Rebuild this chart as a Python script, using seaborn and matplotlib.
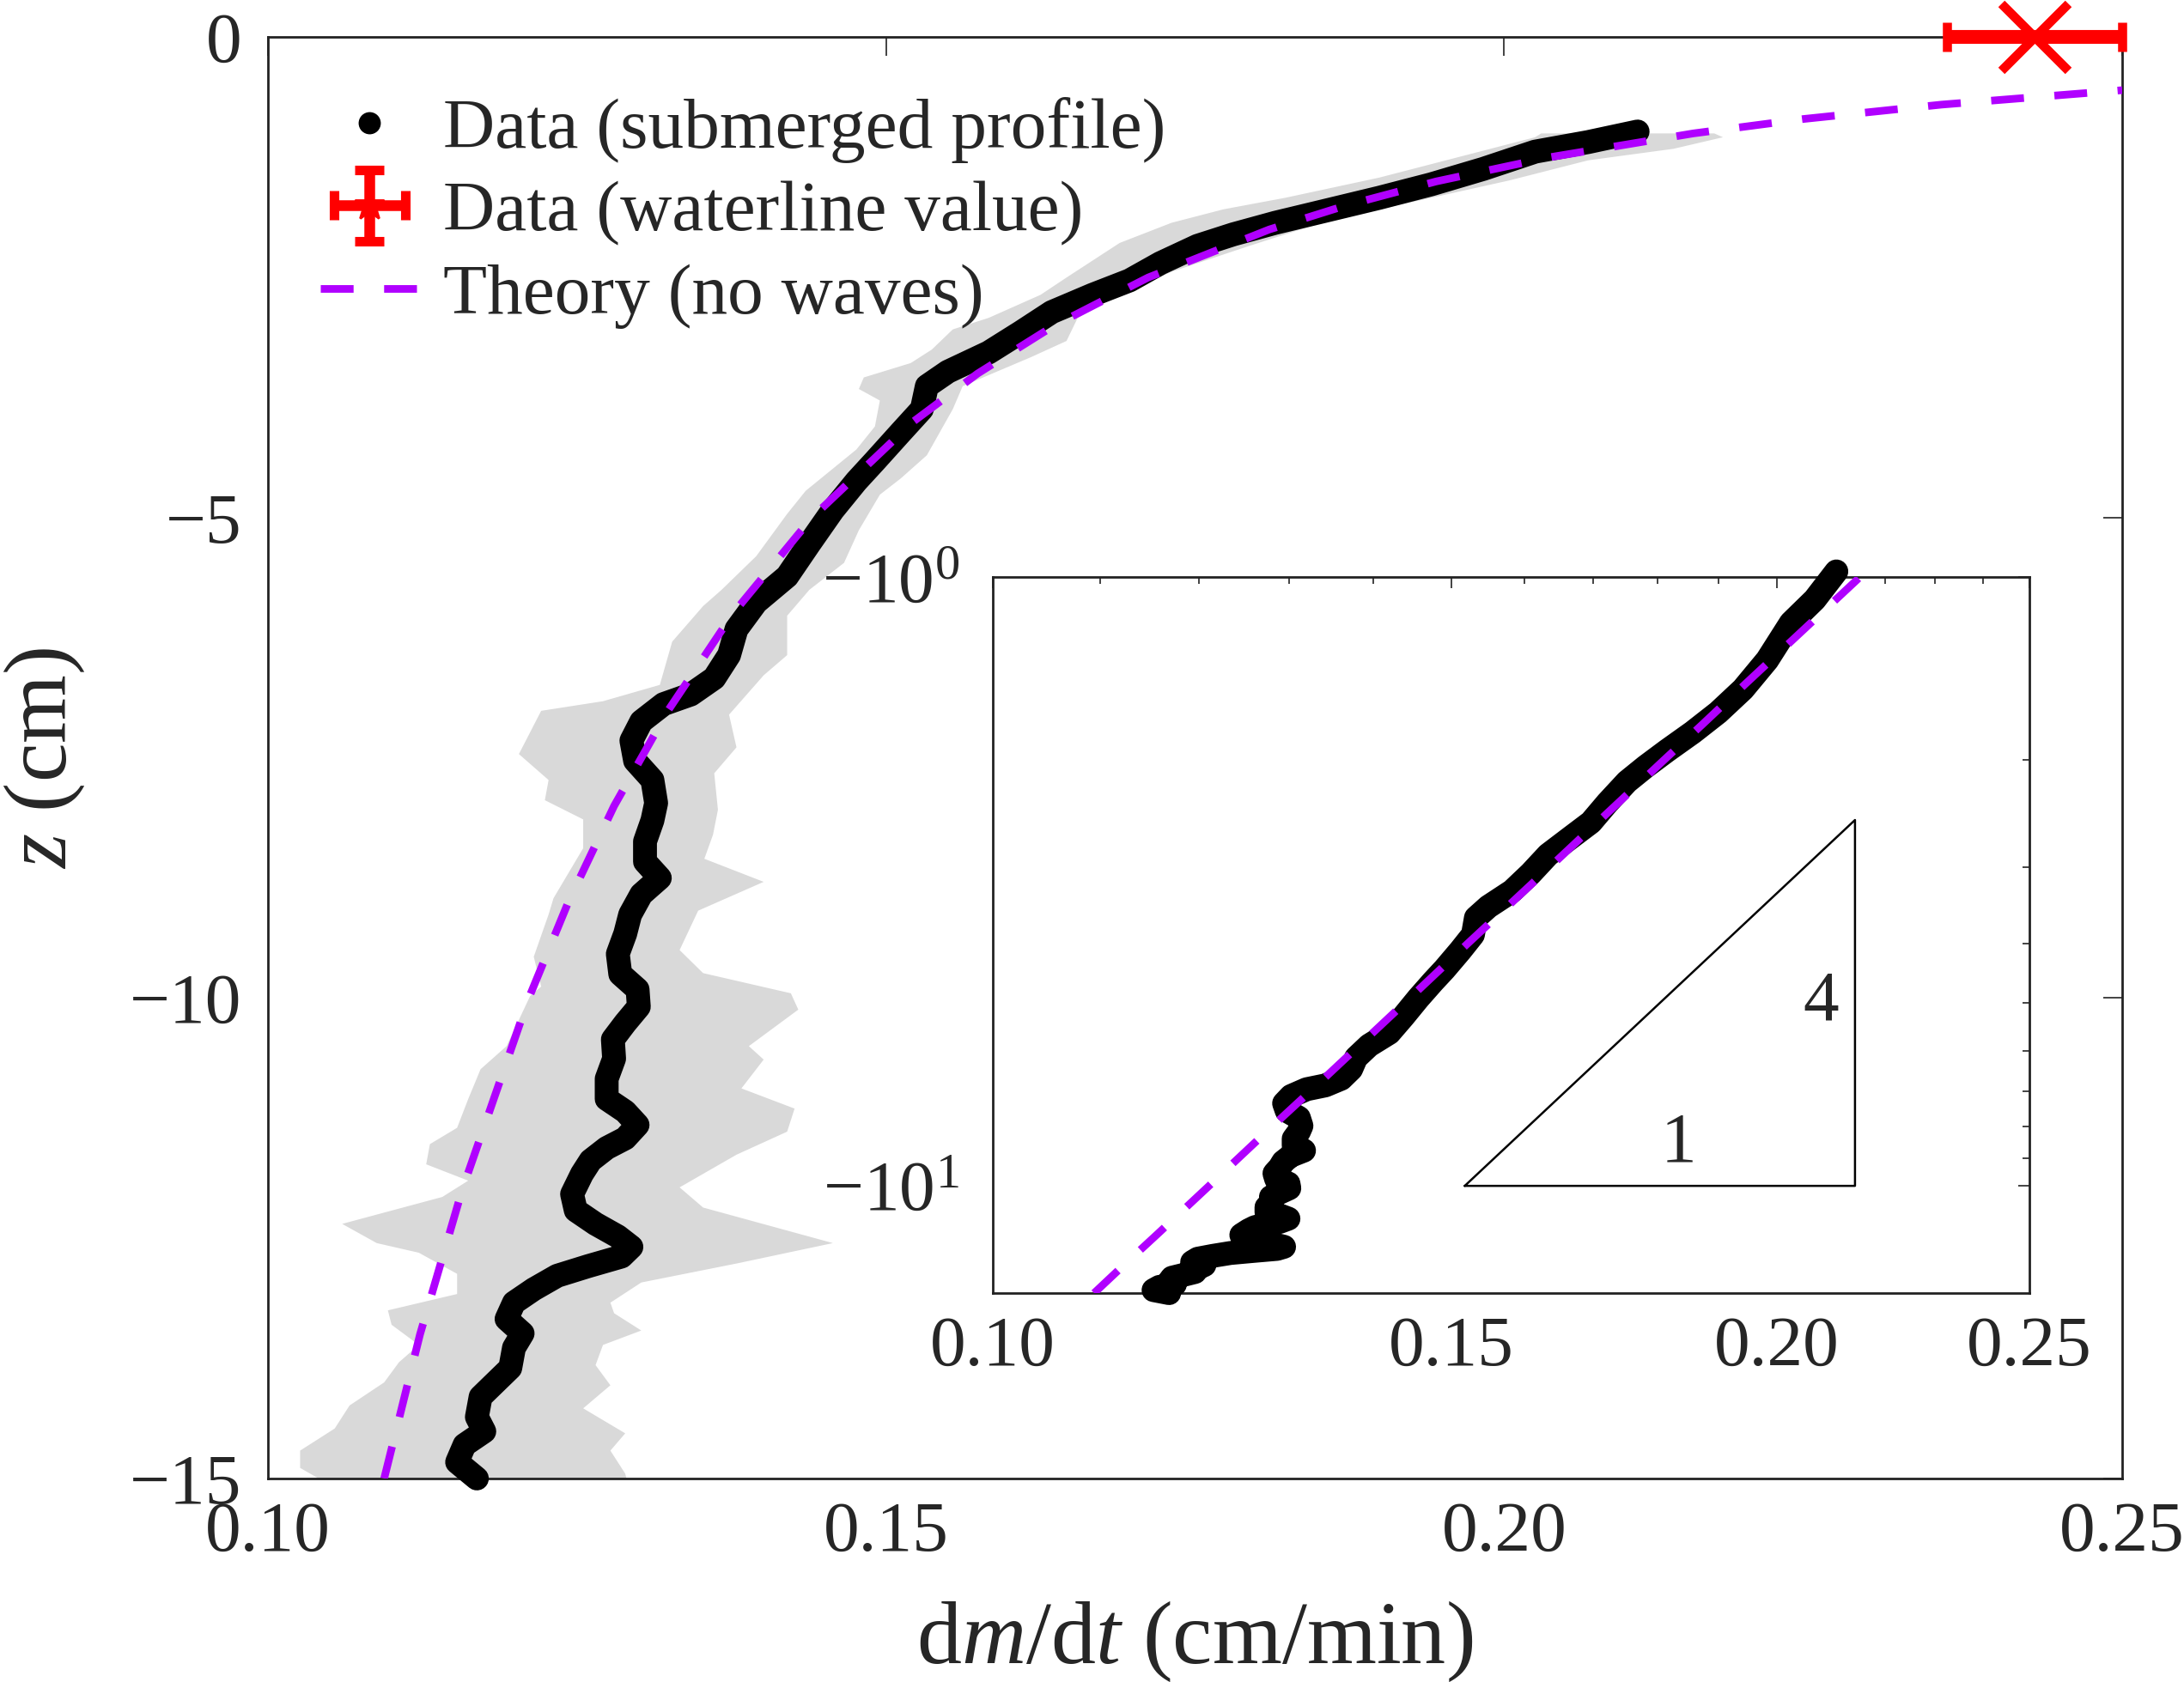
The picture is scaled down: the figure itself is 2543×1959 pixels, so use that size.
import numpy as np
import pandas as pd
import matplotlib
matplotlib.use("Agg")
import matplotlib.pyplot as plt
import seaborn as sns
from matplotlib.lines import Line2D
from matplotlib.ticker import FixedLocator, FixedFormatter, NullFormatter

# profil mesuré (z en cm, dm/dt en cm/min)
profile_z = [-0.98, -1.09, -1.19, -1.37, -1.53, -1.67, -1.80, -1.93, -2.05, -2.17,
             -2.35, -2.53, -2.68, -2.86, -3.07, -3.28, -3.48, -3.63, -3.87, -4.11,
             -4.41, -4.62, -4.92, -5.27, -5.61, -5.88, -6.16, -6.43, -6.67, -6.84,
             -6.94, -7.12, -7.32, -7.53, -7.73, -7.97, -8.15, -8.37, -8.58, -8.75,
             -8.92, -9.13, -9.33, -9.54, -9.75, -9.91, -10.09, -10.26, -10.43, -10.63,
             -10.84, -11.05, -11.18, -11.32, -11.46, -11.56, -11.69, -11.83, -12.04, -12.21,
             -12.35, -12.48, -12.59, -12.69, -12.79, -12.89, -13.03, -13.17, -13.34, -13.49,
             -13.64, -13.85, -14.00, -14.15, -14.36, -14.51, -14.65, -14.83, -15.00]
profile_dmdt = [0.2108, 0.2068, 0.2025, 0.1983, 0.1941, 0.1899, 0.1857, 0.1815, 0.1781, 0.1752,
                0.1722, 0.1697, 0.1667, 0.1634, 0.1609, 0.1583, 0.1550, 0.1533, 0.1529, 0.1512,
                0.1491, 0.1476, 0.1457, 0.1438, 0.1420, 0.1395, 0.1379, 0.1373, 0.1361, 0.1342,
                0.1320, 0.1302, 0.1294, 0.1297, 0.1311, 0.1314, 0.1311, 0.1305, 0.1305, 0.1317,
                0.1302, 0.1293, 0.1289, 0.1283, 0.1285, 0.1299, 0.1300, 0.1289, 0.1279, 0.1280,
                0.1274, 0.1274, 0.1289, 0.1299, 0.1289, 0.1274, 0.1261, 0.1254, 0.1246, 0.1249,
                0.1265, 0.1283, 0.1294, 0.1286, 0.1259, 0.1234, 0.1215, 0.1199, 0.1193, 0.1206,
                0.1199, 0.1196, 0.1184, 0.1172, 0.1169, 0.1175, 0.1159, 0.1153, 0.1169]

# bande grise (bord gauche / bord droit)
band_left_z = [-1.00, -1.04, -1.25, -1.46, -1.67, -1.79, -1.93, -2.14, -2.50, -2.68,
               -2.92, -3.04, -3.25, -3.39, -3.54, -3.66, -3.78, -4.05, -4.29, -4.72,
               -4.96, -5.40, -5.75, -5.92, -6.29, -6.74, -6.91, -7.01, -7.46, -7.73,
               -7.94, -8.14, -8.44, -8.96, -9.13, -9.57, -9.88, -9.98, -10.50, -10.74,
               -11.05, -11.35, -11.52, -11.73, -11.90, -12.07, -12.35, -12.55, -12.65, -12.87,
               -13.08, -13.25, -13.40, -13.61, -13.79, -14.00, -14.24, -14.48, -14.71, -14.89, -15.00]
band_left_x = [0.2030, 0.2025, 0.1962, 0.1899, 0.1823, 0.1773, 0.1731, 0.1689, 0.1646, 0.1625,
               0.1583, 0.1554, 0.1537, 0.1520, 0.1482, 0.1478, 0.1495, 0.1491, 0.1476, 0.1435,
               0.1420, 0.1395, 0.1367, 0.1352, 0.1327, 0.1317, 0.1271, 0.1221, 0.1203, 0.1227,
               0.1224, 0.1255, 0.1255, 0.1231, 0.1227, 0.1215, 0.1221, 0.1212, 0.1193, 0.1172,
               0.1162, 0.1153, 0.1131, 0.1128, 0.1162, 0.1141, 0.1060, 0.1088, 0.1122, 0.1153,
               0.1153, 0.1097, 0.1100, 0.1122, 0.1106, 0.1094, 0.1066, 0.1054, 0.1026, 0.1026, 0.1041]
band_right_z = [-1.00, -1.04, -1.16, -1.28, -1.49, -1.67, -1.91, -2.17, -2.44, -2.74,
                -2.92, -3.16, -3.33, -3.63, -3.87, -4.35, -4.59, -4.76, -5.13, -5.47,
                -5.75, -6.02, -6.43, -6.64, -7.05, -7.39, -7.66, -8.04, -8.30, -8.55,
                -8.79, -9.09, -9.50, -9.74, -9.95, -10.12, -10.50, -10.64, -10.94, -11.15,
                -11.39, -11.63, -11.97, -12.18, -12.55, -12.76, -12.96, -13.17, -13.28, -13.46,
                -13.61, -13.82, -14.03, -14.27, -14.53, -14.71, -14.95, -15.00]
band_right_x = [0.2170, 0.2177, 0.2137, 0.2068, 0.2004, 0.1941, 0.1857, 0.1794, 0.1731, 0.1680,
                0.1655, 0.1646, 0.1617, 0.1562, 0.1554, 0.1533, 0.1512, 0.1495, 0.1478, 0.1466,
                0.1438, 0.1420, 0.1420, 0.1401, 0.1373, 0.1379, 0.1361, 0.1364, 0.1360, 0.1353,
                0.1401, 0.1348, 0.1333, 0.1352, 0.1423, 0.1429, 0.1389, 0.1401, 0.1383, 0.1426,
                0.1420, 0.1379, 0.1333, 0.1352, 0.1457, 0.1380, 0.1302, 0.1277, 0.1280, 0.1302,
                0.1271, 0.1265, 0.1277, 0.1255, 0.1289, 0.1277, 0.1289, 0.1290]

# théorie (sans vagues)
theory_z = [-15.0, -13.5, -12.0, -10.0, -9.0, -8.0, -7.0, -6.0, -5.0, -4.0, -3.5, -3.0,
            -2.5, -2.0, -1.75, -1.5, -1.25, -1.0, -0.85, -0.7, -0.55]
theory_dmdt = [0.1094, 0.1123, 0.1157, 0.1211, 0.1243, 0.1280, 0.1324, 0.1376, 0.1440, 0.1522,
               0.1574, 0.1636, 0.1712, 0.1810, 0.1872, 0.1945, 0.2036, 0.2153, 0.2242, 0.2354, 0.2500]

# valeur à la ligne d'eau
wl_dmdt = [0.2429]
wl_z = [0.0]
wl_err = [0.0071]

main_xticks = [0.10, 0.15, 0.20, 0.25]
main_xticklabels = ["0.10", "0.15", "0.20", "0.25"]
main_yticks = [-15, -10, -5, 0]
main_yticklabels = ["\u221215", "\u221210", "\u22125", "0"]
inset_xticks = [0.10, 0.15, 0.20, 0.25]
inset_xticklabels = ["0.10", "0.15", "0.20", "0.25"]
inset_xminor = [0.11, 0.12, 0.13, 0.14, 0.16, 0.17, 0.18, 0.19, 0.21, 0.22, 0.23, 0.24]
inset_yticks = [1, 10]
inset_yticklabels = [r"$-10^{0}$", r"$-10^{1}$"]
inset_yminor = [2, 3, 4, 5, 6, 7, 8, 9]

# triangle de pente 1:4
tri_x = [0.1518, 0.2143, 0.2143, 0.1518]
tri_depth = [10.0, 10.0, 2.508, 10.0]

sns.set_style("white")
plt.rcParams["font.family"] = ["Liberation Serif", "DejaVu Serif"]
plt.rcParams["mathtext.fontset"] = "custom"
plt.rcParams["mathtext.rm"] = "Liberation Serif"
plt.rcParams["mathtext.it"] = "Liberation Serif:italic"
plt.rcParams["mathtext.bf"] = "Liberation Serif:bold"

PURPLE = "#b000ff"
SPINE = "#222222"
PROF_LW = 10.0
THEO_LW = 3.2
THEO_DASH = [4.3, 4.0]

prof = pd.DataFrame({"dmdt": profile_dmdt, "z": profile_z})
prof["depth"] = -prof["z"]
theo = pd.DataFrame({"dmdt": theory_dmdt, "z": theory_z})
theo["depth"] = -theo["z"]

fig = plt.figure(figsize=(12.715, 9.795), dpi=200)
ax = fig.add_axes([0.1227, 0.1210, 0.8490, 0.8568])

# bande grise
poly_x = band_left_x + band_right_x[::-1]
poly_z = band_left_z + band_right_z[::-1]
ax.fill(poly_x, poly_z, color="#d9d9d9", lw=0, zorder=1)

sns.lineplot(data=prof, x="dmdt", y="z", sort=False, estimator=None, color="k",
             lw=PROF_LW, ax=ax, legend=False, zorder=3)
prof_line = ax.lines[-1]
prof_line.set_solid_capstyle("round")
prof_line.set_solid_joinstyle("round")
prof_line.set_clip_on(False)

sns.lineplot(data=theo, x="dmdt", y="z", sort=False, estimator=None, color=PURPLE,
             lw=THEO_LW, ax=ax, legend=False, zorder=4)
theo_line = ax.lines[-1]
theo_line.set_dashes(THEO_DASH)

eb = ax.errorbar(wl_dmdt, wl_z, xerr=wl_err, fmt="x", color="red", ms=28, mew=3.8,
                 elinewidth=5.8, capsize=6.1, capthick=5.6, zorder=6)
for art in eb.get_children():
    art.set_clip_on(False)

# poignée de légende (barres x et y)
eb_leg = ax.errorbar([np.nan], [np.nan], xerr=[1], yerr=[1], fmt="*", color="red",
                     ms=13, elinewidth=4.5, capsize=6, capthick=4)

ax.set_xlim(0.10, 0.25)
ax.set_ylim(-15, 0)
ax.set_xticks(main_xticks, main_xticklabels)
ax.set_yticks(main_yticks, main_yticklabels)
ax.tick_params(direction="in", length=7.9, width=0.6, color=SPINE, labelsize=30,
               top=True, right=True)
ax.tick_params(axis="x", pad=9.5)
ax.tick_params(axis="y", pad=11)
for sp in ax.spines.values():
    sp.set_color(SPINE)
    sp.set_linewidth(1.0)
ax.set_xlabel(r"d$m$/d$t$ (cm/min)", fontsize=37.5, labelpad=14)
ax.set_ylabel(r"$z$ (cm)", fontsize=37, labelpad=18)

handles = [Line2D([], [], color="k", marker="o", ls="none", ms=8.3), eb_leg, theo_line]
labels = ["Data (submerged profile)", "Data (waterline value)", "Theory (no waves)"]
ax.legend(handles, labels, loc="upper left", bbox_to_anchor=(0.0283, 0.9585),
          frameon=False, fontsize=30, handlelength=1.37, handletextpad=0.35,
          labelspacing=0.24, borderpad=0, borderaxespad=0, numpoints=1)

# encart log-log
ax_in = fig.add_axes([0.4544, 0.2312, 0.4748, 0.4259])
ax_in.set_xscale("log")
ax_in.set_yscale("log")
sns.lineplot(data=prof, x="dmdt", y="depth", sort=False, estimator=None, color="k",
             lw=PROF_LW, ax=ax_in, legend=False, zorder=3)
in_prof = ax_in.lines[-1]
in_prof.set_solid_capstyle("round")
in_prof.set_solid_joinstyle("round")
in_prof.set_clip_on(False)
sns.lineplot(data=theo, x="dmdt", y="depth", sort=False, estimator=None, color=PURPLE,
             lw=THEO_LW, ax=ax_in, legend=False, zorder=4)
ax_in.lines[-1].set_dashes(THEO_DASH)

ax_in.plot(tri_x, tri_depth, color="k", lw=0.9, zorder=2)
ax_in.text(0.2079, 5.01, "4", fontsize=30, ha="center", va="center")
ax_in.text(0.1833, 8.54, "1", fontsize=30, ha="center", va="center")

ax_in.set_xlim(0.10, 0.25)
ax_in.set_ylim(15, 1)
ax_in.xaxis.set_major_locator(FixedLocator(inset_xticks))
ax_in.xaxis.set_major_formatter(FixedFormatter(inset_xticklabels))
ax_in.xaxis.set_minor_locator(FixedLocator(inset_xminor))
ax_in.xaxis.set_minor_formatter(NullFormatter())
ax_in.yaxis.set_major_locator(FixedLocator(inset_yticks))
ax_in.yaxis.set_major_formatter(FixedFormatter(inset_yticklabels))
ax_in.yaxis.set_minor_locator(FixedLocator(inset_yminor))
ax_in.yaxis.set_minor_formatter(NullFormatter())
ax_in.set_xlabel("")
ax_in.set_ylabel("")
ax_in.tick_params(which="both", direction="in", color=SPINE, width=0.6,
                  top=True, right=True, labelsize=30)
ax_in.tick_params(which="major", length=4.7)
ax_in.tick_params(which="minor", length=2.9)
ax_in.tick_params(axis="x", which="major", pad=9.4)
ax_in.tick_params(axis="y", which="major", pad=14)
for sp in ax_in.spines.values():
    sp.set_color(SPINE)
    sp.set_linewidth(1.0)

fig.savefig("out.png", dpi=200)
